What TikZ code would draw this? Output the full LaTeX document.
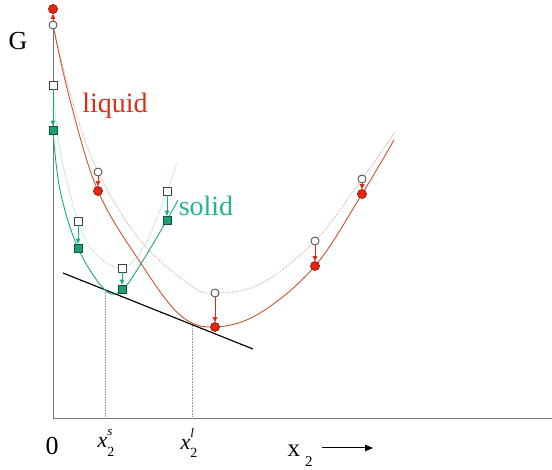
\documentclass[tikz,border=0pt]{standalone}
\usepackage{fontspec}
\setmainfont{Liberation Serif}
\usetikzlibrary{arrows.meta}
\definecolor{LiqCurve}{HTML}{C8542E}
\definecolor{LiqText}{HTML}{D6301C}
\definecolor{LiqDot}{HTML}{E62410}
\definecolor{LiqEdge}{HTML}{8E1A0A}
\definecolor{LiqFaint}{HTML}{DDB0A8}
\definecolor{SolCurve}{HTML}{1BA886}
\definecolor{SolText}{HTML}{22B494}
\definecolor{SolFill}{HTML}{1E9E74}
\definecolor{SolEdge}{HTML}{10503E}
\definecolor{SolFaint}{HTML}{A6DACB}
\definecolor{AxisGray}{HTML}{777777}
\newcommand{\xcomp}[1]{\textit{x}\makebox[0pt][l]{\raisebox{0.55em}{\fontsize{13}{13}\selectfont\textit{#1}}}\raisebox{-0.4em}{\fontsize{14}{14}\selectfont 2}}

\begin{document}
\begin{tikzpicture}[x=1pt, y=-1pt,
  opencirc/.style={circle, draw=black!75, fill=white, line width=0.8pt, minimum size=8pt, inner sep=0pt},
  reddot/.style={circle, draw=LiqEdge, fill=LiqDot, line width=0.7pt, minimum size=9pt, inner sep=0pt},
  opensq/.style={rectangle, draw=black!75, fill=white, line width=0.8pt, minimum size=8pt, inner sep=0pt},
  tealsq/.style={rectangle, draw=SolEdge, fill=SolFill, line width=0.7pt, minimum size=8pt, inner sep=0pt},
  redarrow/.style={LiqDot, line width=0.8pt, -{Triangle[length=5pt, width=4.5pt]}},
  tealarrow/.style={SolCurve, line width=0.8pt, -{Triangle[length=5pt, width=4.5pt]}},
  guide/.style={black!40, densely dotted, line width=0.6pt}]
  \useasboundingbox (0,0) rectangle (552,470);
  % axes
  \coordinate (ytop) at (53,25);
  \coordinate (origin) at (53,418);
  \coordinate (xend) at (552,418);
  \draw[AxisGray, line width=0.9pt] (ytop) -- (origin) -- (xend);
  % common tangent and compositions
  \coordinate (tanA) at (63,273);
  \coordinate (tanB) at (253,349);
  \coordinate (tS) at (105,290);
  \coordinate (tL) at (192,324.8);
  \draw[guide] (tS) -- (tS |- origin);
  \draw[guide] (tL) -- (tL |- origin);
  \draw[black, line width=1.2pt] (tanA) -- (tanB);
  % liquid curves
  \draw[LiqFaint, densely dotted, line width=0.9pt] plot[smooth, tension=0.6] coordinates
    {(53,25) (72,100) (98,172) (140,240) (190,285) (215,293) (260,284) (315,241) (362,179) (395,132)};
  \draw[LiqCurve, line width=0.9pt] plot[smooth, tension=0.6] coordinates
    {(53,25) (70,100) (98,191) (140,262) (180,315) (215,327) (260,313) (315,266) (362,194) (394,140)};
  % solid curves
  \draw[SolFaint, densely dotted, line width=0.9pt] plot[smooth, tension=0.6] coordinates
    {(53,85) (60,150) (78,221) (95,253) (122,268) (145,245) (167,191) (177,163)};
  \draw[SolCurve, line width=0.9pt] plot[smooth, tension=0.6] coordinates
    {(53,130) (60,190) (78,248) (105,290) (122,290) (142,262) (167,220) (178,200)};
  % liquid points
  \foreach \n/\x/\y in {0/53/25, 1/98/172, 2/215/293, 3/315/241, 4/362/179}
    {\node[opencirc] (o\n) at (\x,\y) {};}
  \foreach \n/\x/\y in {0/53/9, 1/98/191, 2/215/327, 3/315/266, 4/362/194}
    {\node[reddot] (d\n) at (\x,\y) {};}
  \foreach \n in {0,...,4}
    {\draw[redarrow] (o\n) -- (d\n);}
  % solid points
  \foreach \n/\x/\y in {0/53/85, 1/78/221, 2/122/268, 3/167/191}
    {\node[opensq] (w\n) at (\x,\y) {};}
  \foreach \n/\x/\y in {0/53/130, 1/78/248, 2/122/289, 3/167/220}
    {\node[tealsq] (s\n) at (\x,\y) {};}
  \foreach \n in {0,...,3}
    {\draw[tealarrow] (w\n) -- (s\n);}
  % labels
  \node[font=\fontsize{26}{28}\selectfont] (glab) at (18,41) {G};
  \node[text=LiqText, font=\fontsize{28}{30}\selectfont] (liqlab) at (115,106) {liquid};
  \node[text=SolText, font=\fontsize{28}{30}\selectfont] (sollab) at (206,206) {solid};
  \node[font=\fontsize{26}{28}\selectfont] (zerolab) at (52,446) {0};
  \node[font=\fontsize{22}{24}\selectfont] (xslab) at (106,443) {\xcomp{s}};
  \node[font=\fontsize{22}{24}\selectfont] (xllab) at (189,443) {\xcomp{l}};
  \node[font=\fontsize{25}{27}\selectfont] (xlab) at (300,456) {x\hspace{0.2em}\raisebox{-0.38em}{\fontsize{15}{15}\selectfont 2}};
  \coordinate (arrS) at (322,448);
  \coordinate (arrE) at (373,448);
  \draw[black, line width=1pt, -{Triangle[length=8pt, width=6.5pt]}] (arrS) -- (arrE);
\end{tikzpicture}
\end{document}
